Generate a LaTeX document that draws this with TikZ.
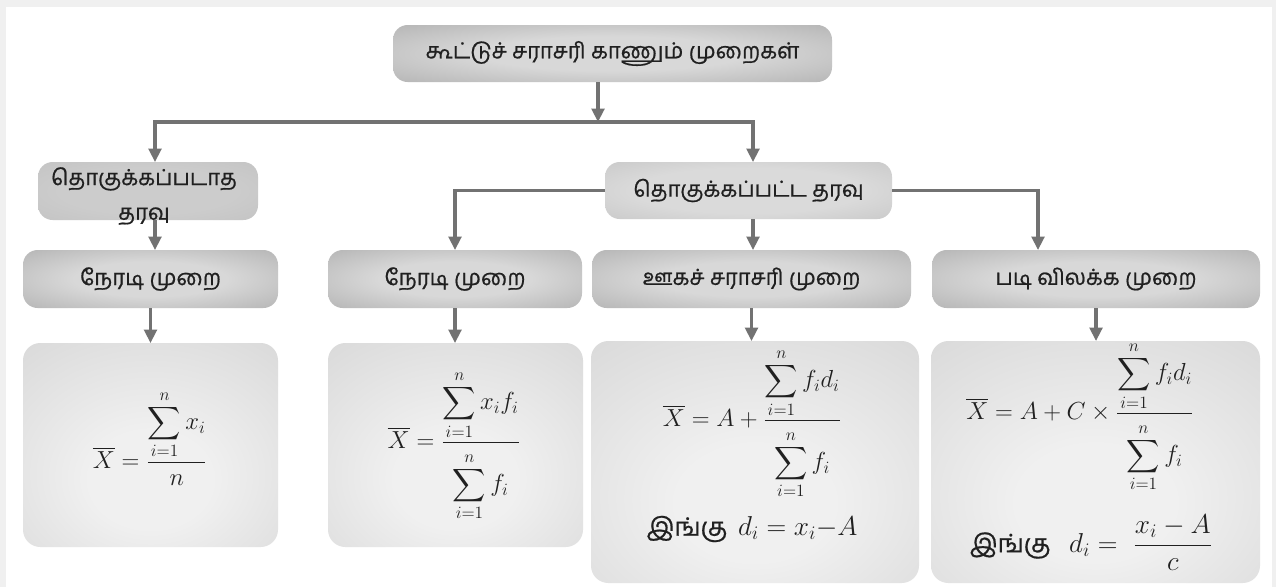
\RequirePackage{fix-cm}
\documentclass[tikz,border=0pt]{standalone}
\usepackage{amsmath}
\usepackage{fontspec}
\newfontfamily\tamil[Script=Tamil, FakeBold=0.7]{Hind Madurai}
\usetikzlibrary{arrows.meta}

\definecolor{frame}{HTML}{F0F0F0}
\definecolor{wire}{HTML}{727272}
\definecolor{ink}{HTML}{202020}
\definecolor{hdrin}{HTML}{D8D8D8}
\definecolor{hdrout}{HTML}{9E9E9E}
\definecolor{grpin}{HTML}{DADADA}
\definecolor{grpout}{HTML}{BCBCBC}
\definecolor{ungin}{HTML}{CCCCCC}
\definecolor{ungout}{HTML}{BDBDBD}
\definecolor{fmlin}{HTML}{F0F0F0}
\definecolor{fmlout}{HTML}{CDCDCD}

\pgfdeclareradialshading{hdrshade}{\pgfpoint{0bp}{0bp}}%
  {color(0bp)=(hdrin); color(15bp)=(hdrin); color(50bp)=(hdrout); color(75bp)=(hdrout)}
\pgfdeclareradialshading{grpshade}{\pgfpoint{0bp}{0bp}}%
  {color(0bp)=(grpin); color(20bp)=(grpin); color(50bp)=(grpout); color(75bp)=(grpout)}
\pgfdeclareradialshading{ungshade}{\pgfpoint{0bp}{0bp}}%
  {color(0bp)=(ungin); color(20bp)=(ungin); color(50bp)=(ungout); color(75bp)=(ungout)}
\pgfdeclareradialshading{fmlshade}{\pgfpoint{0bp}{-10bp}}%
  {color(0bp)=(fmlin); color(12bp)=(fmlin); color(55bp)=(fmlout); color(80bp)=(fmlout)}

\tikzset{
  sz/.style 2 args={minimum width={#1*0.75pt}, minimum height={#2*0.75pt}},
  boxbase/.style={inner sep=0pt, outer sep=0pt, text=ink},
  hdr/.style={boxbase, rounded corners=11pt, shading=hdrshade,
    font=\tamil\fontsize{16.5}{19}\selectfont},
  grp/.style={boxbase, rounded corners=11pt, shading=grpshade,
    font=\tamil\fontsize{16.5}{19}\selectfont},
  ung/.style={boxbase, rounded corners=11pt, shading=ungshade},
  fml/.style={boxbase, rounded corners=13pt, shading=fmlshade},
  mtext/.style={text=ink, inner sep=0pt, font=\fontsize{18.5}{22}\selectfont},
  wtext/.style={text=ink, inner sep=0pt, font=\fontsize{20.5}{24}\selectfont},
  arr/.style={draw=wire, line width=2.3pt,
    -{Triangle[width=9.5pt,length=10pt]}},
  arrtwo/.style={draw=wire, line width=2.3pt,
    {Triangle[width=9.5pt,length=10pt]}-{Triangle[width=9.5pt,length=10pt]}},
}
\newcommand\tamilbig{\tamil\fontsize{19}{22}\selectfont}
% a display-style denominator set a little lower under the bar
\newcommand\lowden[1]{\vbox{\vspace{5pt}\hbox{$\displaystyle #1$}}}

\begin{document}
\begin{tikzpicture}[x=0.75pt, y=-0.75pt]
  % page and frame
  \fill[frame] (0,0) rectangle (1276,587);
  \fill[white] (6,7) rectangle (1272,587);
  \useasboundingbox (0,0) rectangle (1276,587);

  % heading boxes
  \node[hdr, sz={439}{57}] (top) at (612.5,53.5) {கூட்டுச் சராசரி காணும் முறைகள்};
  \node[ung, sz={220}{58}] (ungrouped) at (148,191) {};
  \node[grp, sz={287}{57}] (grouped) at (748.5,190.5) {தொகுக்கப்பட்ட தரவு};
  \node[hdr, sz={255}{58}] (direct1) at (150.5,279) {நேரடி முறை};
  \node[hdr, sz={254}{58}] (direct2) at (455,279) {நேரடி முறை};
  \node[hdr, sz={319}{58}] (assumed) at (751.5,279) {ஊகச் சராசரி முறை};
  \node[hdr, sz={328}{58}] (stepdev) at (1096,279) {படி விலக்க முறை};

  % label of the ungrouped box runs past its lower edge
  \node[text=ink, inner sep=0pt, align=center,
    font=\tamil\fontsize{16.5}{26}\selectfont] (ungtext) at (144,196)
    {தொகுக்கப்படாத\\தரவு};

  % formula boxes
  \node[fml, sz={255}{204}] (f1) at (150.5,445) {};
  \node[fml, sz={255}{204}] (f2) at (455.5,445) {};
  \node[fml, sz={328}{242}] (f3) at (755,462) {};
  \node[fml, sz={329}{242}] (f4) at (1095.5,462) {};

  \node[mtext] (f1a) at (150,438)
    {$\displaystyle \overline{X} = \frac{\displaystyle\sum_{i=1}^{n} x_i}{\lowden{n}}$};
  \node[mtext] (f2a) at (454,446)
    {$\displaystyle \overline{X} = \frac{\displaystyle\sum_{i=1}^{n} x_i f_i}{\lowden{\sum_{i=1}^{n} f_i}}$};
  \node[mtext] (f3a) at (752,424)
    {$\displaystyle \overline{X} = A + \frac{\displaystyle\sum_{i=1}^{n} f_i d_i}{\lowden{\sum_{i=1}^{n} f_i}}$};
  \node[wtext] (f3b) at (752,529)
    {{\tamilbig இங்கு}\hspace{8pt}$d_i = x_i{-}A$};
  \node[mtext] (f4a) at (1080,417)
    {$\displaystyle \overline{X} = A + C \times \frac{\displaystyle\sum_{i=1}^{n} f_i d_i}{\lowden{\sum_{i=1}^{n} f_i}}$};
  \node[wtext] (f4b) at (1091,543)
    {{\tamilbig இங்கு}\hspace{14pt}$\displaystyle d_i = \ \frac{x_i - A}{c}$};

  % junction points of the connectors
  \coordinate (jtop) at (598,122);
  \coordinate (barL) at (155,122);
  \coordinate (barR) at (753,122);
  \coordinate (dropR) at (1038,192);

  % connectors
  \draw[arr] (top.south -| jtop) -- (jtop);
  \draw[arrtwo] (barL |- ungrouped.north) -- (barL) -- (barR) -- (barR |- grouped.north);
  \draw[arr] (ungrouped.south -| barL) -- (direct1.north -| barL);
  \draw[arr] (direct1.south) -- (direct1.south |- f1.north);
  \draw[arr] (grouped.west) -| (direct2.north);
  \draw[arr] (grouped.east) -| (stepdev.north -| dropR);
  \draw[arr] (grouped.south -| barR) -- (assumed.north -| barR);
  \draw[arr] (direct2.south) -- (direct2.south |- f2.north);
  \draw[arr] (assumed.south) -- (assumed.south |- f3.north);
  \draw[arr] (stepdev.south) -- (stepdev.south |- f4.north);
\end{tikzpicture}
\end{document}
